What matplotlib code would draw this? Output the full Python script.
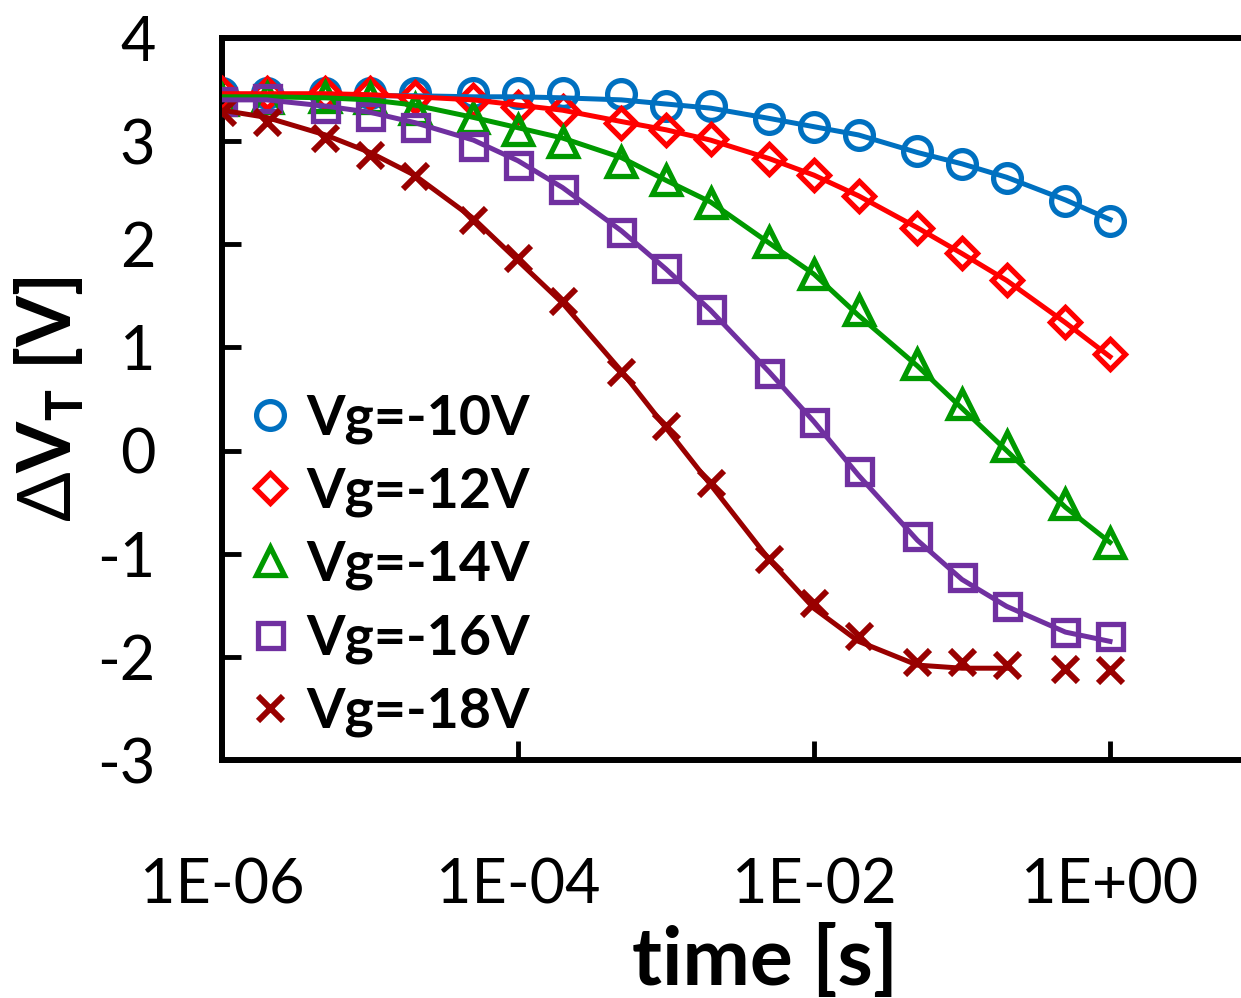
import matplotlib
matplotlib.use("Agg")
import matplotlib.pyplot as plt
from matplotlib.ticker import FixedLocator, FuncFormatter, NullLocator

plt.rcParams['font.family'] = ['Lato', 'DejaVu Sans']
plt.rcParams['mathtext.fontset'] = 'custom'
plt.rcParams['mathtext.rm'] = 'Lato'
plt.rcParams['mathtext.bf'] = 'Lato:bold'
plt.rcParams['axes.unicode_minus'] = False

# ---------------- data ----------------
time_s = [1e-6, 2e-6, 5e-6, 1e-5, 2e-5, 5e-5, 1e-4, 2e-4, 5e-4, 1e-3,
          2e-3, 5e-3, 1e-2, 2e-2, 5e-2, 1e-1, 2e-1, 5e-1, 1.0]

labels = ['Vg=-10V', 'Vg=-12V', 'Vg=-14V', 'Vg=-16V', 'Vg=-18V']

# measured points
meas_10 = [3.47, 3.47, 3.47, 3.47, 3.47, 3.47, 3.47, 3.47, 3.46, 3.34,
           3.34, 3.21, 3.14, 3.06, 2.90, 2.78, 2.64, 2.42, 2.23]
meas_12 = [3.47, 3.47, 3.47, 3.47, 3.43, 3.40, 3.33, 3.29, 3.18, 3.11,
           3.02, 2.83, 2.67, 2.47, 2.16, 1.92, 1.65, 1.25, 0.94]
meas_14 = [3.40, 3.42, 3.43, 3.42, 3.31, 3.22, 3.11, 2.99, 2.80, 2.62,
           2.40, 2.02, 1.71, 1.36, 0.84, 0.45, 0.04, -0.52, -0.90]
meas_16 = [3.39, 3.42, 3.32, 3.24, 3.14, 2.95, 2.77, 2.54, 2.12, 1.77,
           1.37, 0.75, 0.28, -0.20, -0.83, -1.23, -1.51, -1.76, -1.80]
meas_18 = [3.28, 3.19, 3.03, 2.87, 2.66, 2.24, 1.87, 1.45, 0.76, 0.24,
           -0.31, -1.05, -1.48, -1.80, -2.05, -2.05, -2.08, -2.12, -2.13]

# fitted curves
fit_10 = [3.45, 3.45, 3.45, 3.44, 3.44, 3.43, 3.43, 3.42, 3.40, 3.36,
          3.32, 3.22, 3.14, 3.06, 2.89, 2.78, 2.65, 2.43, 2.24]
fit_12 = [3.46, 3.46, 3.46, 3.45, 3.43, 3.40, 3.35, 3.30, 3.19, 3.11,
          3.01, 2.83, 2.67, 2.47, 2.16, 1.91, 1.65, 1.24, 0.91]
fit_14 = [3.43, 3.43, 3.42, 3.40, 3.35, 3.23, 3.13, 3.03, 2.84, 2.62,
          2.41, 2.01, 1.71, 1.31, 0.82, 0.41, 0.00, -0.55, -0.89]
fit_16 = [3.40, 3.40, 3.34, 3.28, 3.18, 3.01, 2.81, 2.55, 2.13, 1.76,
          1.36, 0.76, 0.28, -0.24, -0.87, -1.25, -1.51, -1.76, -1.85]
fit_18_time = time_s[:17]
fit_18 = [3.30, 3.23, 3.06, 2.89, 2.67, 2.25, 1.84, 1.43, 0.77, 0.22,
          -0.33, -1.06, -1.53, -1.85, -2.08, -2.11, -2.11]

x_ticks = [1e-6, 1e-4, 1e-2, 1.0]
y_ticks = [-3, -2, -1, 0, 1, 2, 3, 4]

colors = ['#0070C0', '#FF0000', '#009900', '#7030A0', '#990000']
markers = ['o', 'D', '^', 's', 'x']
msizes = [20, 15.5, 20, 18, 18]
mews = [3.8, 3.8, 3.8, 3.8, 4.3]

# ---------------- figure ----------------
fig = plt.figure(figsize=(12.41, 9.98), dpi=100)
ax = fig.add_axes([222 / 1241, 238 / 998, 1036 / 1241, 722 / 998])

meas = [meas_10, meas_12, meas_14, meas_16, meas_18]
fits = [(time_s, fit_10), (time_s, fit_12), (time_s, fit_14),
        (time_s, fit_16), (fit_18_time, fit_18)]

handles = []
for i in range(5):
    h, = ax.plot(time_s, meas[i], linestyle='none', marker=markers[i],
                 markersize=msizes[i], markerfacecolor='none',
                 markeredgecolor=colors[i], markeredgewidth=mews[i],
                 label=labels[i], zorder=3 + i)
    handles.append(h)
for i in range(5):
    ax.plot(fits[i][0], fits[i][1], color=colors[i], linewidth=3.6,
            zorder=10 + i)

ax.set_xscale('log')
ax.set_xlim(1e-6, 1e1)
ax.set_ylim(-3, 4)

ax.xaxis.set_major_locator(FixedLocator(x_ticks))
ax.xaxis.set_minor_locator(NullLocator())
ax.xaxis.set_major_formatter(FuncFormatter(lambda v, p: f"{v:.0E}"))
ax.yaxis.set_major_locator(FixedLocator(y_ticks))
ax.yaxis.set_major_formatter(FuncFormatter(lambda v, p: f"{int(round(v))}"))

for s in ax.spines.values():
    s.set_linewidth(4.3)
ax.tick_params(axis='both', direction='in', length=14, width=3.5,
               labelsize=44, top=False, right=False)
ax.tick_params(axis='x', pad=70)
ax.tick_params(axis='y', pad=48)

ax.set_xlabel('time [s]', fontsize=58, fontweight='bold')
ax.xaxis.set_label_coords((765 - 222) / 1036, -(985 - 760) / 722)
ax.xaxis.label.set_verticalalignment('baseline')
ax.set_ylabel(r'$\mathrm{\Delta}\mathbf{V}_\mathbf{T}$ [V]', fontsize=53,
              fontweight='bold', labelpad=8)

leg = ax.legend(handles=handles, loc='upper left',
                bbox_to_anchor=(0.025, 0.508), frameon=False,
                prop={'family': ['Lato', 'DejaVu Sans'], 'weight': 'bold',
                      'size': 40},
                handlelength=0.8, handletextpad=0.25, labelspacing=0.41,
                borderpad=0, borderaxespad=0, markerscale=1.0)

fig.savefig('out.png', dpi=100)
